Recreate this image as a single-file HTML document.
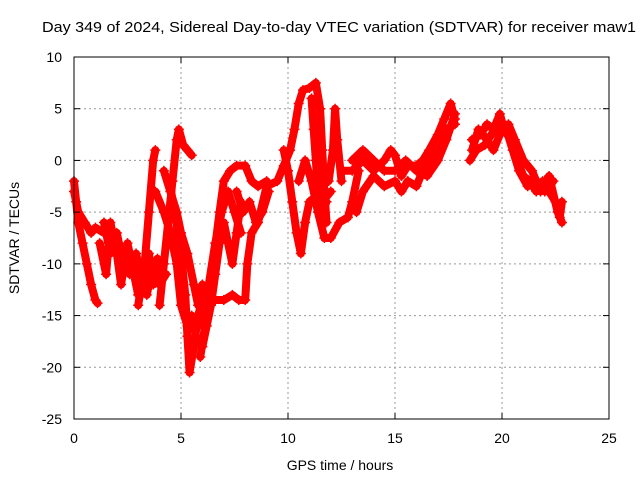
<!DOCTYPE html>
<html><head><meta charset="utf-8"><style>
body{margin:0;background:#fff}
svg{display:block;font-family:"Liberation Sans",sans-serif}
</style></head><body>
<svg id="chart" width="640" height="480" viewBox="0 0 640 480">
<text x="339" y="32" font-size="15" text-anchor="middle" textLength="594" lengthAdjust="spacingAndGlyphs">Day 349 of 2024, Sidereal Day-to-day VTEC variation (SDTVAR) for receiver maw1</text>
<g id="grid"></g>
<g id="marks"></g>
<rect x="74" y="57" width="535" height="362" fill="none" stroke="#000" stroke-width="1"/>
<g id="ticks"></g>
<text x="340" y="470" font-size="14" text-anchor="middle">GPS time / hours</text>
<text x="19" y="238" font-size="14" text-anchor="middle" transform="rotate(-90 19 238)">SDTVAR / TECUs</text>
</svg>
<script>
const xTicks=[0,5,10,15,20,25];
const yTicks=[10,5,0,-5,-10,-15,-20,-25];
const tA=[[0,-2],[0.1,-4],[0.2,-6],[0.4,-8],[0.6,-10],[0.8,-12],[1.0,-13.5],[1.1,-13.8]];
const tB=[[0,-3],[0.2,-5],[0.5,-6],[0.8,-7],[1.0,-6.5],[1.4,-7]];
const tC=[[1.2,-8],[1.5,-11],[1.7,-6],[2.0,-9],[2.2,-12],[2.5,-8],[2.7,-10],[3.0,-13],[3.3,-11],[3.5,-9],[3.7,-12],[3.9,-9.5]];
const tC2=[[1.4,-6],[1.7,-9],[2.0,-7],[2.3,-10],[2.6,-11],[2.9,-9],[3.1,-11],[3.4,-13],[3.7,-10],[4.0,-12],[4.3,-11]];
const tD=[[3.0,-14],[3.3,-10],[3.5,-5],[3.7,0],[3.8,1]];
const tE=[[4.0,-14],[4.2,-10],[4.4,-6],[4.6,-2],[4.8,2],[4.9,3],[5.1,1.5],[5.3,1],[5.5,0.5]];
const tE2=[[4.2,-1],[4.5,-3],[4.8,-5],[5.0,-7],[5.3,-9],[5.6,-12],[5.8,-14],[6.0,-12]];
const tF=[[4.5,-2.5],[4.7,-5],[5.0,-9],[5.2,-13],[5.3,-17],[5.4,-20.5],[5.6,-18],[5.8,-15],[6.0,-13.5],[6.3,-13],[6.6,-13.5],[7.0,-13.5],[7.4,-13],[7.7,-13.5],[8.0,-13.5],[8.1,-10],[8.3,-7],[8.6,-6],[9.0,-2.5]];
const tG=[[3.8,-3],[4.2,-5],[4.5,-7],[4.8,-10],[5.0,-14],[5.3,-16]];
const tH=[[5.9,-19],[6.2,-15],[6.5,-10],[6.8,-5],[7.0,-2],[7.3,-1],[7.6,-0.5],[8.0,-0.5],[8.3,-2],[8.6,-2.5],[9.0,-2]];
const tH2=[[5.5,-15],[5.7,-17],[6.0,-18],[6.2,-16],[6.4,-14],[6.6,-11],[6.8,-8],[7.0,-6],[7.2,-8],[7.4,-10],[7.6,-7],[7.8,-4]];
const tI=[[6.0,-16],[6.3,-12],[6.6,-8],[6.9,-5],[7.2,-3],[7.5,-5],[7.8,-7]];
const tI2=[[7.6,-3],[7.9,-5],[8.2,-4],[8.5,-6],[8.8,-5],[9.1,-3]];
const tJ=[[9.0,-2.5],[9.5,-2],[9.8,-0.5],[10.1,1],[10.3,3],[10.5,5.5],[10.7,6.8],[11.0,7],[11.3,7.5],[11.5,5],[11.6,1],[11.7,-3],[11.8,-6]];
const tK=[[9.8,1],[10.0,-1],[10.2,-4],[10.4,-7],[10.6,-9],[10.8,-6],[11.0,-4],[11.3,-3.5],[11.6,-4],[12.0,-3]];
const tK2=[[11.1,6],[11.2,3],[11.3,0],[11.4,-3],[11.6,-5],[11.8,-4]];
const tL=[[10.5,-2],[10.8,0],[11.1,-2],[11.4,-5],[11.7,-7.5],[12.0,-7.5],[12.4,-6],[12.8,-5.5],[13.0,-4],[13.3,-1]];
const tM=[[11.9,-2],[12.1,1],[12.2,5],[12.3,2],[12.5,-2]];
const tN=[[12.5,-1],[13,-1],[13.5,0],[14,-1],[14.5,0],[14.8,1],[15,0.5],[15.3,-1.5],[15.6,-0.5],[16,-0.5],[16.3,0],[16.6,1],[17,2.5],[17.3,4],[17.6,5.5],[17.8,4]];
const tN2=[[13,0],[13.5,1],[14,0],[14.5,-1],[15,-1],[15.5,0],[16,-1],[16.5,-1.5],[17,0],[17.4,2],[17.8,4.5]];
const tO=[[13.2,-5],[13.5,-3],[14,-1.5],[14.5,-2.5],[15,-2],[15.3,-3],[15.6,-2],[16,-2.5],[16.3,-1],[16.6,0],[17,1],[17.4,3],[17.8,3.5]];
const tP=[[18.6,2],[19,2.5],[19.3,3.5],[19.6,3],[19.9,4.5],[20.1,3],[20.4,2],[20.7,0],[21,-1.5],[21.3,-2],[21.6,-3],[21.9,-2],[22.2,-3],[22.5,-4],[22.7,-5.5],[22.8,-4]];
const tQ=[[18.5,0],[18.8,1],[19.2,1.5],[19.5,2.5],[19.9,3.5],[20.2,3],[20.5,1],[20.8,-1],[21.2,-2.5],[21.6,-2],[22,-3],[22.4,-2]];
const tR=[[18.6,1],[18.9,3],[19.3,2],[19.6,1],[19.9,2.5],[20.3,3.5],[20.6,2],[21,0],[21.4,-1],[21.8,-3],[22.2,-1.5],[22.6,-5],[22.8,-6]];
const traces=[tA,tB,tC,tC2,tD,tE,tE2,tF,tG,tH,tH2,tI,tI2,tJ,tK,tK2,tL,tM,tN,tN2,tO,tP,tQ,tR];
const NS='http://www.w3.org/2000/svg';
function X(h){return 74+h*535/25;}
function Y(v){return 57+(10-v)*362/35;}
const grid=document.getElementById('grid'),ticks=document.getElementById('ticks'),marks=document.getElementById('marks');
function mk(tag,attrs,parent){const e=document.createElementNS(NS,tag);for(const k in attrs)e.setAttribute(k,attrs[k]);parent.appendChild(e);return e;}
xTicks.forEach(t=>{
  if(t>0&&t<25){const g=mk('line',{x1:X(t),x2:X(t),y1:57,y2:419,stroke:'#999','stroke-dasharray':'2,3'},grid);
  
  }
  const a=mk('line',{x1:X(t),x2:X(t),y1:419,y2:413,stroke:'#000'},ticks);
  
  
  const b=mk('line',{x1:X(t),x2:X(t),y1:57,y2:63,stroke:'#000'},ticks);
  
  
  const l=mk('text',{x:X(t),y:443,'font-size':14,'text-anchor':'middle'},ticks);l.textContent=t;
  
  
});
yTicks.forEach(t=>{
  if(t<10&&t>-25){const g=mk('line',{x1:74,x2:609,y1:Y(t),y2:Y(t),stroke:'#999','stroke-dasharray':'2,3'},grid);
  
  }
  const a=mk('line',{x1:74,x2:80,y1:Y(t),y2:Y(t),stroke:'#000'},ticks);
  
  
  const b=mk('line',{x1:603,x2:609,y1:Y(t),y2:Y(t),stroke:'#000'},ticks);
  
  
  const l=mk('text',{x:62,y:Y(t)+5,'font-size':14,'text-anchor':'end'},ticks);l.textContent=t;
  
  
});
traces.forEach((tr,i)=>{
  const p=mk('polyline',{points:tr.map(d=>X(d[0])+','+Y(d[1])).join(' '),fill:'none',stroke:'#f00','stroke-width':8,'stroke-linejoin':'round','stroke-linecap':'round'},marks);
  
  
  tr.forEach(d=>{
    const x=X(d[0]),y=Y(d[1]);
    const m=mk('path',{d:`M${x-5},${y}H${x+5}M${x},${y-5}V${y+5}`,stroke:'#f00','stroke-width':1.5},marks);
    
    
  });
});
</script>
</body></html>
